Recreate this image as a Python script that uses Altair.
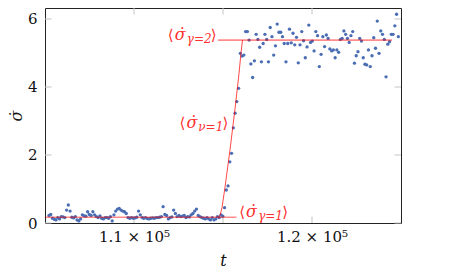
import altair as alt
import pandas as pd

# ---------------- data ----------------
sigma_low = [
    0.22, 0.25, 0.14, 0.11, 0.09, 0.16, 0.12, 0.19, 0.18, 0.16,
    0.38, 0.53, 0.35, 0.17, 0.15, 0.19, 0.09, 0.06, 0.12, 0.24,
    0.21, 0.20, 0.33, 0.25, 0.22, 0.33, 0.24, 0.19, 0.16, 0.21,
    0.14, 0.12, 0.16, 0.16, 0.14, 0.19, 0.06, 0.24, 0.35, 0.41,
    0.43, 0.38, 0.35, 0.33, 0.28, 0.16, 0.14, 0.16, 0.14, 0.15,
    0.17, 0.35, 0.24, 0.16, 0.14, 0.16, 0.13, 0.12, 0.14, 0.15,
    0.14, 0.16, 0.16, 0.17, 0.19, 0.48, 0.25, 0.22, 0.12, 0.16,
    0.18, 0.38, 0.28, 0.19, 0.22, 0.19, 0.20, 0.22, 0.16, 0.19,
    0.18, 0.24, 0.28, 0.35, 0.41, 0.22, 0.19, 0.16, 0.14, 0.12,
    0.16, 0.12, 0.09, 0.16, 0.09, 0.12, 0.19, 0.16, 0.24, 0.20,
]
sigma_rise = [0.45, 0.97, 1.09, 1.80, 2.05, 2.80, 3.23, 3.57, 3.96]
sigma_high = [
    4.99, 4.91, 4.94, 5.63, 5.63, 5.38, 4.68, 4.28, 4.77, 5.55,
    5.40, 5.17, 4.74, 5.28, 5.55, 5.40, 4.74, 5.75, 5.48, 4.94,
    5.21, 5.85, 5.61, 5.61, 5.48, 5.28, 4.74, 5.28, 5.70, 5.30,
    5.58, 5.24, 5.46, 4.71, 5.24, 5.63, 5.36, 4.86, 5.18, 5.82,
    5.31, 5.35, 5.06, 5.63, 5.51, 4.60, 4.96, 5.48, 5.19, 5.53,
    5.43, 5.12, 5.06, 5.09, 4.86, 5.09, 5.02, 5.40, 5.43, 5.65,
    5.55, 5.43, 5.31, 5.51, 5.63, 4.70, 4.92, 5.04, 5.43, 5.35,
    4.86, 4.67, 4.65, 5.09, 4.60, 4.92, 5.45, 5.14, 5.94, 4.99,
    5.65, 5.55, 5.40, 4.30, 5.26, 5.33, 5.55, 5.55, 5.80, 6.14,
    5.48,
]
sigma = sigma_low + sigma_rise + sigma_high

# samples lie on a regular time grid (first and last sample)
t_first, t_last = 105225, 124850
n = len(sigma)
t = [round(t_first + (t_last - t_first) * i / (n - 1)) for i in range(n)]

# fitted levels and the transition
low_t = [105000, 115758]
low_y = [0.17, 0.17]
high_t = [114719, 124494]
high_y = [5.38, 5.38]
ramp_t = [114719, 114831, 114944, 115112, 115393, 115674, 115899, 116011, 116096]
ramp_y = [0.17, 0.22, 0.45, 1.05, 2.15, 3.35, 4.40, 5.00, 5.38]

# annotation anchors (right end of each label, on its baseline)
label_t = [114646, 115298, 118652]
label_y = [5.38, 2.78, 0.17]
label_sub = ["γ=2", "ν=1", "γ=1"]

xtick_vals = [110000, 115000, 120000]
xlabel_vals = [110000, 120000]
ytick_vals = [0, 2, 4, 6]

# ---------------- chart ----------------
W, H = 356, 215
FONT = "DejaVu Serif"
RED = "#ff3030"
BLUE = "#4a6db3"
TICK = "#c4c4c4"

xs = alt.Scale(domain=[105000, 125000], nice=False, zero=False)
ys = alt.Scale(domain=[0, 6.3235], nice=False, zero=False)

pts = pd.DataFrame({"t": t, "s": sigma})
lev = pd.DataFrame({
    "t": low_t + high_t,
    "s": low_y + high_y,
    "seg": ["low"] * len(low_t) + ["high"] * len(high_t),
})
ramp = pd.DataFrame({"t": ramp_t, "s": ramp_y})
lab = pd.DataFrame({"t": label_t, "s": label_y, "sub": label_sub})
xt = pd.DataFrame({"t": xtick_vals})
yt = pd.DataFrame({"s": ytick_vals})

xaxis = alt.Axis(values=xlabel_vals, ticks=False, domain=False, grid=False,
                 labelExpr="format(datum.value / 1e5, '.1f') + ' \u00d7 10\u2075'",
                 labelPadding=6, title="t", titlePadding=8)
yaxis = alt.Axis(values=ytick_vals, ticks=False, domain=False, grid=False,
                 labelPadding=8, title="σ\u0307", titlePadding=3)

X = alt.X("t:Q", scale=xs, axis=xaxis)
Y = alt.Y("s:Q", scale=ys, axis=yaxis)

points = alt.Chart(pts).mark_circle(size=11, color=BLUE, opacity=1).encode(x=X, y=Y)

levels = alt.Chart(lev).mark_line(color="#ff0000", opacity=0.45, strokeWidth=1.6).encode(
    x=X, y=Y, detail="seg:N")
ramp_line = alt.Chart(ramp).mark_line(color="#ff0000", opacity=0.8, strokeWidth=0.9).encode(
    x=X, y=Y)

tb = alt.Chart(xt).mark_rule(color=TICK, strokeWidth=1).encode(
    x=X, y=alt.value(H), y2=alt.value(H - 6.5))
tt = alt.Chart(xt).mark_rule(color=TICK, strokeWidth=1).encode(
    x=X, y=alt.value(0), y2=alt.value(6.5))
tl = alt.Chart(yt).mark_rule(color=TICK, strokeWidth=1).encode(
    y=Y, x=alt.value(0), x2=alt.value(6.5))
tr = alt.Chart(yt).mark_rule(color=TICK, strokeWidth=1).encode(
    y=Y, x=alt.value(W), x2=alt.value(W - 6.5))

base_lab = alt.Chart(lab)
close_b = base_lab.mark_text(align="right", baseline="alphabetic", dx=0, font=FONT,
                             fontSize=15, color=RED).encode(x=X, y=Y, text=alt.value("\u27e9"))
sub_t = base_lab.mark_text(align="right", baseline="alphabetic", dx=-5, dy=3, font=FONT,
                           fontSize=12, fontStyle="italic", color=RED).encode(
    x=X, y=Y, text="sub:N")
sig_t = base_lab.mark_text(align="right", baseline="alphabetic", dx=-31, font=FONT,
                           fontSize=16, fontStyle="italic", color=RED).encode(
    x=X, y=Y, text=alt.value("σ\u0307"))
open_b = base_lab.mark_text(align="right", baseline="alphabetic", dx=-43, font=FONT,
                            fontSize=15, color=RED).encode(x=X, y=Y, text=alt.value("\u27e8"))

chart = alt.layer(
    tb, tt, tl, tr, points, levels, ramp_line, open_b, sig_t, sub_t, close_b
).properties(
    width=W, height=H,
    autosize=alt.AutoSizeParams(type="none"),
    padding={"left": 37, "top": 0, "right": 48, "bottom": 50},
).configure_view(
    stroke="#222", strokeWidth=1
).configure_axis(
    labelFont=FONT, labelFontSize=15, labelColor="#111",
    titleFont=FONT, titleFontSize=16, titleFontStyle="italic",
    titleFontWeight="normal", titleColor="#111",
)

chart.save("out.html", embed_options={"renderer": "svg", "actions": False})
